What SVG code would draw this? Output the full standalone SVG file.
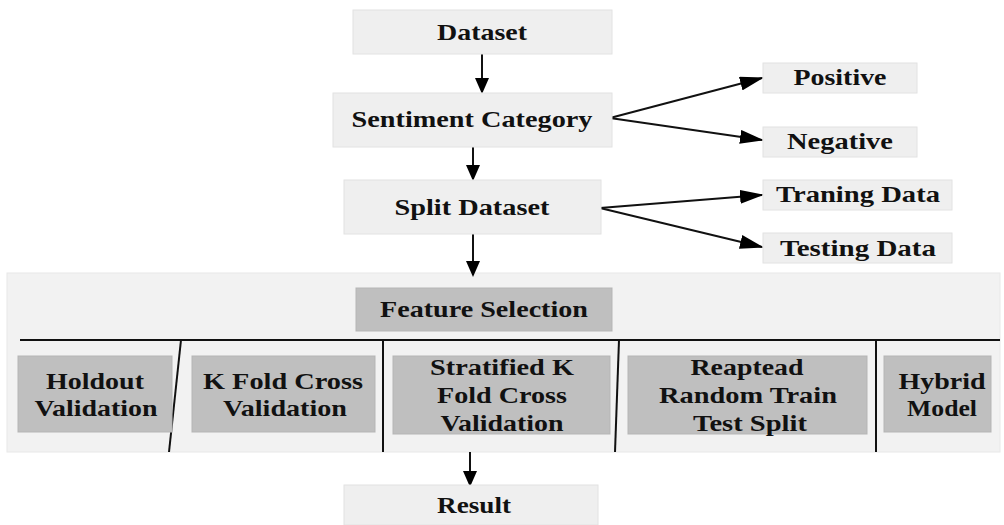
<svg xmlns="http://www.w3.org/2000/svg" width="1004" height="525" viewBox="0 0 1004 525">
<defs>
<marker id="av" markerWidth="16" markerHeight="14" refX="14" refY="7" orient="auto" markerUnits="userSpaceOnUse" viewBox="0 0 16 14">
<path d="M0,0 L16,7 L0,14 Z" fill="#000"/>
</marker>
<marker id="as" markerWidth="24" markerHeight="14" refX="22" refY="7" orient="auto" markerUnits="userSpaceOnUse" viewBox="0 0 24 14">
<path d="M0,0 L24,7 L0,14 Z" fill="#000"/>
</marker>
</defs>
<style>
text{font-family:"Liberation Serif","Times New Roman",serif;font-weight:bold;font-size:23px;fill:#111;text-anchor:middle}
.lb{fill:#efefef;stroke:#e2e2e2;stroke-width:1}
.db{fill:#bfbfbf;stroke:#b5b5b5;stroke-width:1}
.ln{stroke:#111;stroke-width:2;fill:none}
</style>
<rect width="1004" height="525" fill="#fff"/>
<g id="panel">
<rect x="7" y="273" width="993" height="179" fill="#f2f2f2" stroke="#e8e8e8"/>
</g>
<g id="connectors">
<line class="ln" x1="482" y1="54" x2="482" y2="92" marker-end="url(#av)"/>
<line class="ln" x1="473" y1="147" x2="473" y2="179" marker-end="url(#av)"/>
<line class="ln" x1="473" y1="234" x2="473" y2="275" marker-end="url(#av)"/>
<line class="ln" x1="470" y1="452" x2="470" y2="485" marker-end="url(#av)"/>
<path class="ln" d="M610,118 L762,78" marker-end="url(#as)"/>
<path class="ln" d="M610,118 L762,140" marker-end="url(#as)"/>
<path class="ln" d="M600,208 L762,195" marker-end="url(#as)"/>
<path class="ln" d="M600,208 L762,247" marker-end="url(#as)"/>
<line class="ln" x1="20" y1="340" x2="1000" y2="340"/>
<line class="ln" x1="181" y1="340" x2="169" y2="452"/>
<line class="ln" x1="383" y1="340" x2="383" y2="452"/>
<line class="ln" x1="619" y1="340" x2="615" y2="452"/>
<line class="ln" x1="876" y1="340" x2="876" y2="452"/>
</g>
<g id="dataset"><rect class="lb" x="353" y="10" width="259" height="44"/><text x="482" y="40" textLength="90" lengthAdjust="spacingAndGlyphs">Dataset</text></g>
<g id="sentiment"><rect class="lb" x="333" y="93" width="279" height="54"/><text x="472" y="127" textLength="241" lengthAdjust="spacingAndGlyphs">Sentiment Category</text></g>
<g id="positive"><rect class="lb" x="763" y="63" width="154" height="30"/><text x="840" y="85" textLength="93" lengthAdjust="spacingAndGlyphs">Positive</text></g>
<g id="negative"><rect class="lb" x="763" y="127" width="154" height="30"/><text x="840" y="149" textLength="106" lengthAdjust="spacingAndGlyphs">Negative</text></g>
<g id="split"><rect class="lb" x="344" y="180" width="257" height="54"/><text x="472" y="215" textLength="155" lengthAdjust="spacingAndGlyphs">Split Dataset</text></g>
<g id="training"><rect class="lb" x="763" y="180" width="189" height="30"/><text x="858" y="202" textLength="164" lengthAdjust="spacingAndGlyphs">Traning Data</text></g>
<g id="testing"><rect class="lb" x="763" y="233" width="189" height="30"/><text x="858" y="256" textLength="156" lengthAdjust="spacingAndGlyphs">Testing Data</text></g>
<g id="feature"><rect class="db" x="356" y="288" width="256" height="43"/><text x="484" y="317" textLength="208" lengthAdjust="spacingAndGlyphs">Feature Selection</text></g>
<g id="holdout"><rect class="db" x="18" y="356" width="154" height="76"/><text x="95" y="389" textLength="98" lengthAdjust="spacingAndGlyphs">Holdout</text><text x="96" y="416" textLength="123" lengthAdjust="spacingAndGlyphs">Validation</text></g>
<g id="kfold"><rect class="db" x="192" y="356" width="183" height="76"/><text x="283" y="389" textLength="160" lengthAdjust="spacingAndGlyphs">K Fold Cross</text><text x="285" y="416" textLength="124" lengthAdjust="spacingAndGlyphs">Validation</text></g>
<g id="stratified"><rect class="db" x="393" y="356" width="217" height="78"/><text x="502" y="375" textLength="144" lengthAdjust="spacingAndGlyphs">Stratified K</text><text x="502" y="403" textLength="130" lengthAdjust="spacingAndGlyphs">Fold Cross</text><text x="502" y="431" textLength="123" lengthAdjust="spacingAndGlyphs">Validation</text></g>
<g id="repeated"><rect class="db" x="628" y="356" width="239" height="78"/><text x="747" y="375" textLength="113" lengthAdjust="spacingAndGlyphs">Reaptead</text><text x="748" y="403" textLength="178" lengthAdjust="spacingAndGlyphs">Random Train</text><text x="750" y="431" textLength="114" lengthAdjust="spacingAndGlyphs">Test Split</text></g>
<g id="hybrid"><rect class="db" x="884" y="356" width="107" height="76"/><text x="942" y="389" textLength="87" lengthAdjust="spacingAndGlyphs">Hybrid</text><text x="942" y="416" textLength="70" lengthAdjust="spacingAndGlyphs">Model</text></g>
<g id="result"><rect class="lb" x="344" y="485" width="254" height="40"/><text x="474" y="513" textLength="74" lengthAdjust="spacingAndGlyphs">Result</text></g>
</svg>
